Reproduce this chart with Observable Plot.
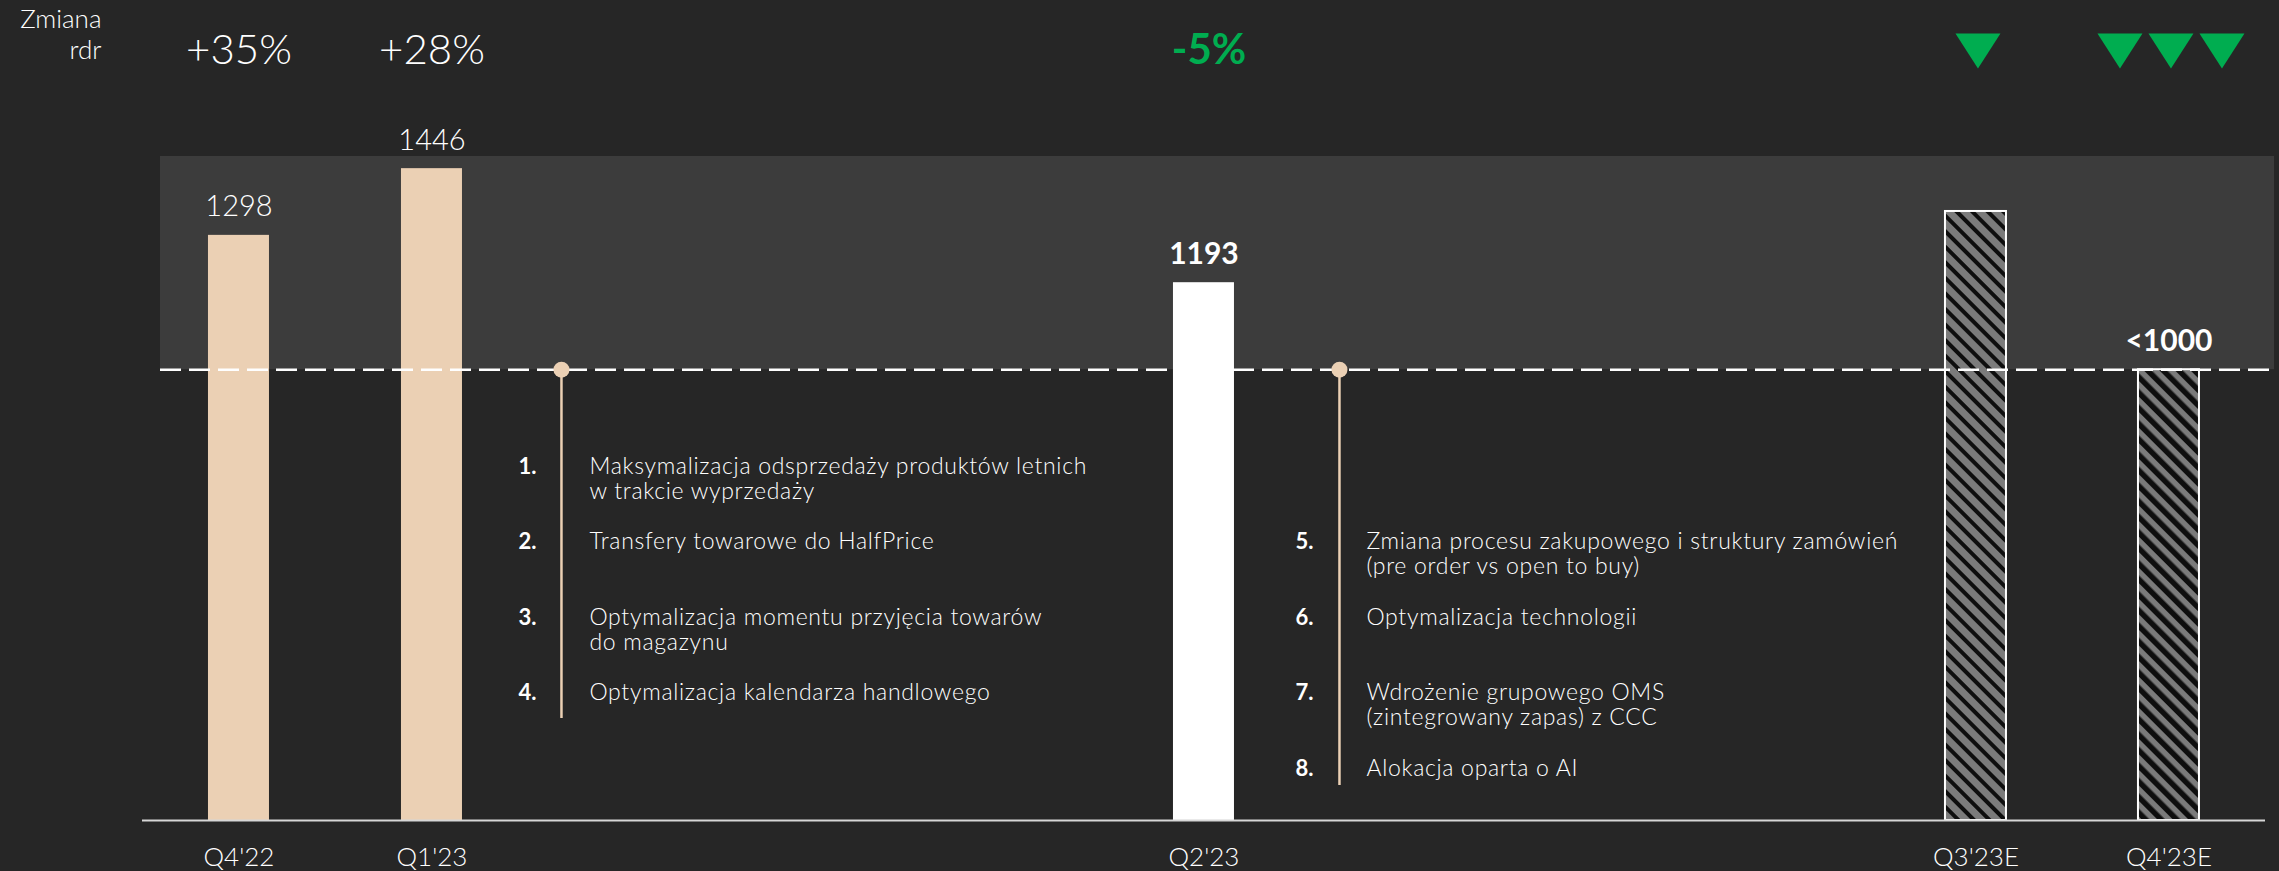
<!DOCTYPE html>
<html><head><meta charset="utf-8">
<script src="https://cdn.jsdelivr.net/npm/d3@7"></script>
<script src="https://cdn.jsdelivr.net/npm/@observablehq/plot@0.6"></script>
<style>
html,body{margin:0;padding:0;background:#262626;overflow:hidden;}
#chart svg{display:block;}
</style></head><body><div id="chart"></div>
<script>
// ---- data ----
const quarters = ["Q4'22", "Q1'23", "Q2'23", "Q3'23E", "Q4'23E"];
const values = [1298, 1446, 1193, 1351, 1000];
const valueLabels = ["1298", "1446", "1193", "", "<1000"];
const changeLabels = ["+35%", "+28%", "-5%", "", ""];
const downArrows = [0, 0, 0, 1, 3];
const barKind = ["actual", "actual", "current", "forecastA", "forecastB"];
const threshold = 1000;
const bandTop = 1473;
const yoyTitle = ["Zmiana", "rdr"];
const actionNumbersA = ["1.", "2.", "3.", "4."];
const actionTextsA = [
  "Maksymalizacja odsprzedaży produktów letnich\nw trakcie wyprzedaży",
  "Transfery towarowe do HalfPrice",
  "Optymalizacja momentu przyjęcia towarów\ndo magazynu",
  "Optymalizacja kalendarza handlowego"
];
const actionNumbersB = ["5.", "6.", "7.", "8."];
const actionTextsB = [
  "Zmiana procesu zakupowego i struktury zamówień\n(pre order vs open to buy)",
  "Optymalizacja technologii",
  "Wdrożenie grupowego OMS\n(zintegrowany zapas) z CCC",
  "Alokacja oparta o AI"
];

// ---- layout / style ----
const W = 2279, H = 871;
const FONT = "Lato, 'Open Sans', sans-serif";
const TAN = "#ebd0b4", GREEN = "#00ad50", BG = "#262626", BAND = "#3c3c3c";
const slotIndex = [0, 1, 5, 9, 10];
const domain = d3.range(11).map(i => {
  const k = slotIndex.indexOf(i);
  return k >= 0 ? quarters[k] : " ".repeat(i + 1);
});
const fills = {actual: TAN, current: "#ffffff", forecastA: "url(#hatchA)", forecastB: "url(#hatchB)"};
const strokes = {actual: "none", current: "none", forecastA: "#ffffff", forecastB: "#ffffff"};

const data = quarters.map((q, i) => ({
  q, v: values[i], label: valueLabels[i], change: changeLabels[i], kind: barKind[i], arrows: downArrows[i]
}));

const defs = () => {
  const d = d3.create("svg:defs");
  [["hatchA", 4], ["hatchB", 5.5]].forEach(([id, w]) => {
    const p = d.append("pattern").attr("id", id).attr("patternUnits", "userSpaceOnUse")
      .attr("width", 11).attr("height", 11).attr("patternTransform", "rotate(-45)");
    p.append("rect").attr("width", 11).attr("height", 11).attr("fill", "#7b7b7b");
    p.append("rect").attr("width", w).attr("height", 11).attr("fill", "#0e0e0e");
  });
  return d.node();
};

const downTriangle = {
  draw(ctx) { const w = 22.5, h = 17.5; ctx.moveTo(-w, -h); ctx.lineTo(w, -h); ctx.lineTo(0, h); ctx.closePath(); }
};

// arrows
const arrowRows = [];
data.forEach(d => { for (let k = 0; k < d.arrows; k++) arrowRows.push({q: d.q, off: (k - (d.arrows - 1) / 2)}); });
const arrowOffsets = [...new Set(arrowRows.map(d => d.off))];
const arrowMarks = arrowOffsets.map(o => Plot.dot(arrowRows.filter(d => d.off === o), {
  x: "q", frameAnchor: "top", dy: 50.5, dx: o * 51 + 2, symbol: downTriangle, r: 5, fill: GREEN, stroke: "none"
}));

// action list marks
const LIST_FS = 23;
function actionMarks(anchor, nums, texts, startRow, lineDx, numDx, textDx, lineInsetBottom) {
  const marks = [
    Plot.ruleX([anchor], {x: d => d, y1: threshold, y2: 0, dx: lineDx, insetBottom: lineInsetBottom, stroke: TAN, strokeWidth: 2.5}),
    Plot.dot([anchor], {x: d => d, y: threshold, dx: lineDx, r: 8, fill: TAN, stroke: "none"})
  ];
  nums.forEach((n, i) => {
    const baseline = 473 + 75.5 * (startRow + i);
    const lines = texts[i].split("\n").length;
    marks.push(Plot.text([n], {x: () => anchor, text: d => d, frameAnchor: "top", dy: baseline, dx: numDx,
      textAnchor: "start", lineAnchor: "bottom", fontSize: 22, fontWeight: 700, fill: "#ffffff"}));
    marks.push(Plot.text([texts[i]], {x: () => anchor, text: d => d, frameAnchor: "top", dy: baseline + (lines - 1) * 25, dx: textDx,
      textAnchor: "start", lineAnchor: "bottom", lineHeight: 25 / LIST_FS, fontSize: LIST_FS, fontWeight: 300, fill: "#ffffff"}));
  });
  return marks;
}

const chart = Plot.plot({
  width: W, height: H,
  marginTop: 0, marginBottom: 51, marginLeft: 160, marginRight: 5,
  style: {background: BG, color: "#ffffff", fontFamily: FONT},
  x: {type: "band", domain, paddingInner: 132 / 193, paddingOuter: 0.31867, align: 0.39, round: false, axis: null},
  y: {domain: [0, 1819], axis: null},
  color: {type: "identity"},
  marks: [
    defs,
    Plot.rect([bandTop], {y1: threshold, y2: d => d, fill: BAND}),
    Plot.barY(data, {x: "q", y: "v", fill: d => fills[d.kind], stroke: d => strokes[d.kind], strokeWidth: 2}),
    Plot.ruleY([threshold], {stroke: "#ffffff", strokeWidth: 2.5, strokeDasharray: "21,8"}),
    Plot.ruleY([0], {stroke: "#d6d6d6", strokeWidth: 2, insetLeft: -18, insetRight: 9}),
    Plot.text(data.filter(d => d.kind === "actual"), {x: "q", y: "v", text: "label", dy: -19, lineAnchor: "bottom",
      fontSize: 29, fontWeight: 300, fill: "#ffffff"}),
    Plot.text(data.filter(d => d.kind !== "actual"), {x: "q", y: "v", text: "label", dy: -19, lineAnchor: "bottom",
      fontSize: 30, fontWeight: 700, fill: "#ffffff"}),
    Plot.text(data.filter(d => d.change.startsWith("+")), {x: "q", text: "change", frameAnchor: "top", dy: 63, lineAnchor: "bottom",
      fontSize: 42, fontWeight: 300, fill: "#ffffff"}),
    Plot.text(data.filter(d => d.change.startsWith("-")), {x: "q", text: "change", frameAnchor: "top", dy: 63, dx: 5, lineAnchor: "bottom",
      fontSize: 42, fontWeight: 700, fill: GREEN}),
    ...arrowMarks,
    Plot.text([yoyTitle[0]], {text: d => d, frameAnchor: "top-left", dx: -59, dy: 27, textAnchor: "end", lineAnchor: "bottom",
      fontSize: 26, fontWeight: 300, fill: "#ffffff"}),
    Plot.text([yoyTitle[1]], {text: d => d, frameAnchor: "top-left", dx: -59, dy: 58, textAnchor: "end", lineAnchor: "bottom",
      fontSize: 26, fontWeight: 300, fill: "#ffffff"}),
    ...actionMarks("Q1'23", actionNumbersA, actionTextsA, 0, 129.5, 86.5, 157.5, 102),
    ...actionMarks("Q2'23", actionNumbersB, actionTextsB, 1, 135.5, 91.5, 162.5, 35),
    Plot.axisX({ticks: quarters, tickSize: 0, tickPadding: 27, fontSize: 26, fontWeight: 300, color: "#ffffff", label: null})
  ]
});
// slightly wider tracking for the action list, as in the reference typeface
d3.select(chart).selectAll(`g[font-size="${LIST_FS}"]`).attr("letter-spacing", "0.7px");
document.getElementById("chart").appendChild(chart);
</script>
</body></html>
